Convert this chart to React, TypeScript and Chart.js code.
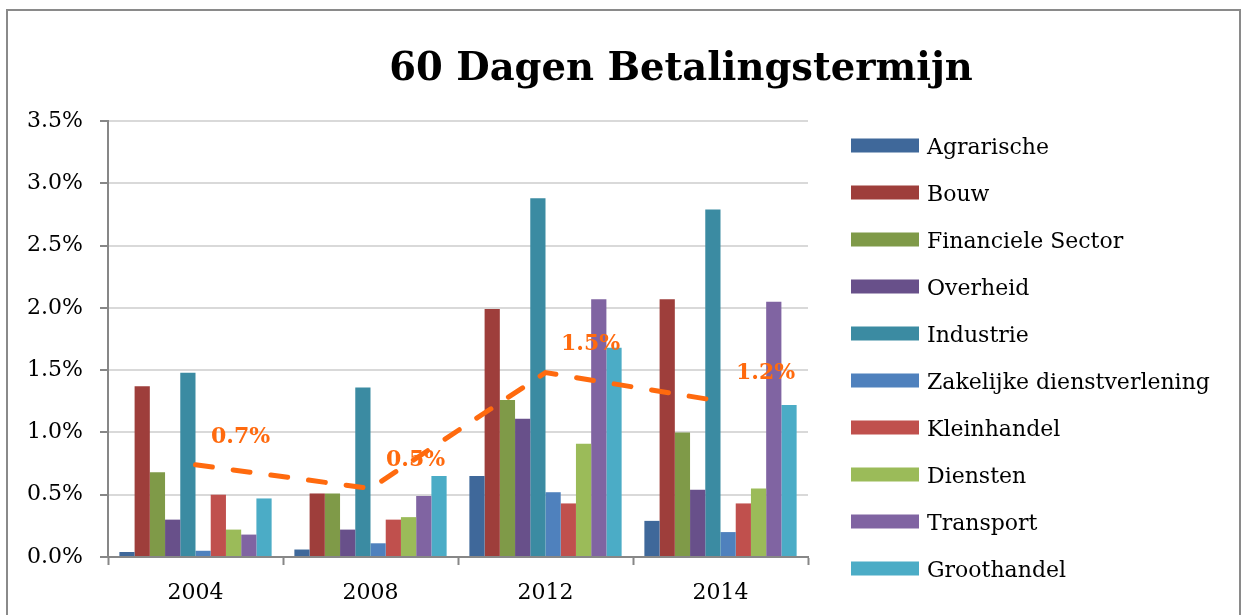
import React, { useEffect, useRef } from 'react';
import { Chart, registerables } from 'chart.js';

Chart.register(...registerables);

const chartTitle = '60 Dagen Betalingstermijn';
const categories = ['2004', '2008', '2012', '2014'];

const agrarische = [0.04, 0.06, 0.65, 0.29];
const bouw = [1.37, 0.51, 1.99, 2.07];
const financiele = [0.68, 0.51, 1.26, 1.0];
const overheid = [0.3, 0.22, 1.11, 0.54];
const industrie = [1.48, 1.36, 2.88, 2.79];
const zakelijke = [0.05, 0.11, 0.52, 0.2];
const kleinhandel = [0.5, 0.3, 0.43, 0.43];
const diensten = [0.22, 0.32, 0.91, 0.55];
const transport = [0.18, 0.49, 2.07, 2.05];
const groothandel = [0.47, 0.65, 1.68, 1.22];

const gemiddelde = [0.74, 0.55, 1.48, 1.25];
const gemiddeldeLabels = ['0.7%', '0.5%', '1.5%', '1.2%'];

const seriesNames = [
  'Agrarische',
  'Bouw',
  'Financiele Sector',
  'Overheid',
  'Industrie',
  'Zakelijke dienstverlening',
  'Kleinhandel',
  'Diensten',
  'Transport',
  'Groothandel',
];
const seriesColors = [
  '#3F689A',
  '#9E3E3B',
  '#7F9A48',
  '#68508A',
  '#3B8BA2',
  '#4F81BD',
  '#C0504D',
  '#9BBB59',
  '#8064A2',
  '#4BACC6',
];

const yTicks = { min: 0, max: 3.5, step: 0.5 };

const SERIF = '"DejaVu Serif", serif';
const ORANGE = '#FF6A0E';

export default function App() {
  const ref = useRef<HTMLCanvasElement>(null);

  useEffect(() => {
    const canvas = ref.current;
    if (!canvas) return;
    const seriesValues = [
      agrarische,
      bouw,
      financiele,
      overheid,
      industrie,
      zakelijke,
      kleinhandel,
      diensten,
      transport,
      groothandel,
    ];

    const overlay = {
      id: 'overlay',
      afterDatasetsDraw(chart: any) {
        const ctx = chart.ctx;
        const meta = chart.getDatasetMeta(0);
        ctx.save();
        ctx.font = `bold 22px ${SERIF}`;
        ctx.fillStyle = ORANGE;
        ctx.textAlign = 'center';
        ctx.textBaseline = 'middle';
        meta.data.forEach((pt: any, i: number) => {
          ctx.fillText(gemiddeldeLabels[i], pt.x + 45, pt.y - 28);
        });
        ctx.restore();
      },
      afterDraw(chart: any) {
        const ctx = chart.ctx;
        const area = chart.chartArea;
        ctx.save();
        // title
        ctx.font = `bold 38.5px ${SERIF}`;
        ctx.fillStyle = '#000';
        ctx.textAlign = 'center';
        ctx.textBaseline = 'alphabetic';
        ctx.fillText(chartTitle, chart.width * 0.5488, 80);
        // legend
        const bars = chart.data.datasets.filter((d: any) => d.type !== 'line');
        const boxX = area.right + 43;
        const boxW = 68;
        const boxH = 14;
        const rowStart = area.top + 24.5;
        const rowGap = 47;
        ctx.font = `22px ${SERIF}`;
        ctx.textAlign = 'left';
        bars.forEach((d: any, i: number) => {
          const cy = rowStart + i * rowGap;
          ctx.fillStyle = d.backgroundColor;
          ctx.fillRect(boxX, cy - boxH / 2, boxW, boxH);
          ctx.fillStyle = '#000';
          ctx.fillText(d.label, boxX + boxW + 8, cy + 8);
        });
        ctx.restore();
      },
    };

    const datasets: any[] = [
      {
        type: 'line',
        label: 'Gemiddelde',
        data: gemiddelde,
        borderColor: ORANGE,
        borderWidth: 5,
        borderDash: [17, 21],
        borderCapStyle: 'round',
        pointRadius: 0,
        fill: false,
        tension: 0,
        order: -1,
      },
      ...seriesNames.map((name, i) => ({
        type: 'bar',
        label: name,
        data: seriesValues[i],
        backgroundColor: seriesColors[i],
        borderWidth: 0,
        categoryPercentage: 0.87,
        barPercentage: 1.0,
      })),
    ];

    const chart = new Chart(canvas, {
      type: 'bar',
      data: { labels: categories, datasets },
      options: {
        animation: false,
        responsive: false,
        maintainAspectRatio: false,
        layout: { padding: { left: 8, top: 121, right: 433, bottom: 0 } },
        plugins: {
          legend: { display: false },
          title: { display: false },
          tooltip: { enabled: false },
        },
        scales: {
          x: {
            offset: true,
            grid: {
              display: true,
              drawOnChartArea: false,
              drawTicks: true,
              tickLength: 8,
              tickColor: '#878787',
              tickWidth: 2,
              offset: true,
            },
            border: { display: true, color: '#878787', width: 2 },
            ticks: {
              color: '#000',
              font: { family: SERIF, size: 22 },
              padding: 15,
            },
            afterFit: (s: any) => {
              s.height = 58;
            },
          },
          y: {
            min: yTicks.min,
            max: yTicks.max,
            ticks: {
              stepSize: yTicks.step,
              color: '#000',
              font: { family: SERIF, size: 22 },
              padding: 17,
              callback: (v: any) => Number(v).toFixed(1) + '%',
            },
            grid: {
              color: '#D9D9D9',
              lineWidth: 2,
              tickLength: 8,
              tickColor: '#878787',
              tickWidth: 2,
            },
            border: { display: true, color: '#878787', width: 2 },
            afterFit: (s: any) => {
              s.width = 100;
            },
          },
        },
      },
      plugins: [overlay],
    });

    return () => chart.destroy();
  }, []);

  return (
    <div
      style={{
        position: 'fixed',
        left: 0,
        top: 0,
        width: 1241,
        height: 615,
        overflow: 'hidden',
        background: '#fff',
      }}
    >
      <canvas
        ref={ref}
        width={1241}
        height={615}
        style={{ position: 'absolute', left: 0, top: 0, width: 1241, height: 615 }}
      />
      <div
        style={{
          position: 'absolute',
          left: 6,
          top: 9,
          width: 1235,
          height: 700,
          border: '2px solid #8a8a8a',
          boxSizing: 'border-box',
          pointerEvents: 'none',
        }}
      />
    </div>
  );
}
